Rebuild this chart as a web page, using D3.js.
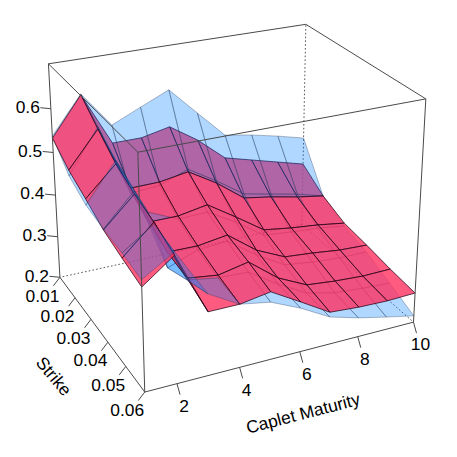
<!DOCTYPE html><html><head><meta charset="utf-8"><style>html,body{margin:0;background:#fff}svg{display:block}text{font-family:"Liberation Sans",Arial,sans-serif;fill:#000}</style></head><body><script src="https://cdn.jsdelivr.net/npm/d3@7"></script><script>
const maturities=[1,2,3,4,5,6,7,8,9,10];
const strikes=[0.01,0.02,0.03,0.04,0.05,0.06];
const zTicks=[0.2,0.3,0.4,0.5,0.6];
const strikeTicks=[0.01,0.02,0.03,0.04,0.05,0.06];
const matTicks=[2,4,6,8,10];
const surfaceA=[
[.533,.500,.478,.454,.440,.428],
[.620,.580,.542,.518,.502,.479],
[.497,.432,.397,.375,.365,.342],
[.497,.433,.397,.374,.356,.342],
[.511,.444,.409,.384,.370,.353],
[.467,.404,.366,.334,.318,.314],
[.411,.354,.321,.303,.286,.274],
[.393,.343,.311,.297,.279,.269],
[.375,.329,.304,.289,.275,.267],
[.357,.318,.294,.286,.276,.269]];
const surfaceB=[
[.538,.487,.464,.456,.451,.443],
[.622,.585,.550,.525,.498,.486],
[.539,.420,.420,.339,.361,.381],
[.569,.425,.390,.365,.350,.342],
[.598,.450,.392,.370,.347,.330],
[.532,.409,.354,.323,.304,.300],
[.467,.364,.308,.284,.267,.263],
[.455,.350,.301,.275,.251,.244],
[.440,.336,.296,.270,.246,.229],
[.423,.318,.287,.269,.242,.215]];
const W=457,H=457;
const U=d3.scaleLinear().domain([1,10]).range([0,1]);
const V=d3.scaleLinear().domain([.01,.06]).range([0,1]);
const Z=d3.scaleLinear().domain([.2,.7]).range([0,1]);
// camera calibration: box corners -> page pixels
const corners=[[0,0,0,60,279],[0,1,0,145,391],[1,1,0,413,324],[1,0,0,302,222],[0,0,1,48,64],[0,1,1,138,151],[1,1,1,426,99],[1,0,1,306,25]];
function fit(c){const A=[],b=[];for(const[X,Y,G,x,y]of c){A.push([X,Y,G,1,0,0,0,0,-x*X,-x*Y,-x*G]);b.push(x);A.push([0,0,0,0,X,Y,G,1,-y*X,-y*Y,-y*G]);b.push(y);}
const n=11,M=[];for(let i=0;i<n;i++){M.push(new Array(n+1).fill(0));for(let j=0;j<n;j++)for(let k=0;k<A.length;k++)M[i][j]+=A[k][i]*A[k][j];for(let k=0;k<A.length;k++)M[i][n]+=A[k][i]*b[k];}
for(let i=0;i<n;i++){let p=i;for(let r=i+1;r<n;r++)if(Math.abs(M[r][i])>Math.abs(M[p][i]))p=r;[M[i],M[p]]=[M[p],M[i]];for(let r=0;r<n;r++)if(r!=i){const f=M[r][i]/M[i][i];for(let k=i;k<=n;k++)M[r][k]-=f*M[i][k];}}
return M.map((r,i)=>r[n]/r[i]);}
const p=fit(corners);
const raw=(u,v,w)=>{const d=p[8]*u+p[9]*v+p[10]*w+1;return[(p[0]*u+p[1]*v+p[2]*w+p[3])/d,(p[4]*u+p[5]*v+p[6]*w+p[7])/d,d];};
const proj=(m,s,z)=>raw(U(m),V(s),Z(z));
const svg=d3.select("body").append("svg").attr("width",W).attr("height",H).attr("viewBox",`0 0 ${W} ${H}`);
const line=d3.line();
const boxC=(i,j,k)=>raw(i,j,k).slice(0,2);
const edge="#4a4a4a";
const hidden=[[boxC(1,0,0),boxC(0,0,0)],[boxC(1,0,0),boxC(1,1,0)],[boxC(1,0,0),boxC(1,0,1)]];
svg.append("g").selectAll("path").data(hidden).join("path").attr("d",d=>line(d)).attr("fill","none").attr("stroke","#444").attr("stroke-width",.9).attr("stroke-dasharray","1.6,2.2");
const cells=[];
const styles={a:{fill:"rgba(255,49,96,.8)",stroke:"rgba(30,0,20,.8)",sw:.9},b:{fill:"rgba(0,127,255,.31)",stroke:"rgba(35,55,85,.42)",sw:.8}};
[[surfaceA,"a"],[surfaceB,"b"]].forEach(([g,k])=>{
 for(let i=0;i<maturities.length-1;i++)for(let j=0;j<strikes.length-1;j++){
  const pts=[[i,j],[i+1,j],[i+1,j+1],[i,j+1]].map(([a,b])=>proj(maturities[a],strikes[b],g[a][b]));
  cells.push({k,pts:pts.map(q=>q.slice(0,2)),d:d3.mean(pts,q=>q[2])});
 }});
cells.sort((a,b)=>b.d-a.d);
svg.append("g").selectAll("path").data(cells).join("path").attr("d",c=>line(c.pts)+"Z").attr("fill",c=>styles[c.k].fill).attr("stroke",c=>styles[c.k].stroke).attr("stroke-width",c=>styles[c.k].sw).attr("stroke-linejoin","round");
const front=[[boxC(0,0,0),boxC(0,1,0)],[boxC(0,1,0),boxC(1,1,0)],[boxC(0,0,0),boxC(0,0,1)],[boxC(0,1,0),boxC(0,1,1)],[boxC(1,1,0),boxC(1,1,1)],[boxC(0,0,1),boxC(0,1,1)],[boxC(0,1,1),boxC(1,1,1)],[boxC(1,1,1),boxC(1,0,1)],[boxC(1,0,1),boxC(0,0,1)]];
svg.append("g").selectAll("path").data(front).join("path").attr("d",d=>line(d)).attr("fill","none").attr("stroke",edge).attr("stroke-width",1);
const fs=17.4;
const tickG=svg.append("g").attr("stroke",edge).attr("stroke-width",1);
const textG=svg.append("g").attr("font-size",fs);
zTicks.forEach(t=>{const[x,y]=proj(1,.01,t);tickG.append("line").attr("x1",x).attr("y1",y).attr("x2",x-10.5).attr("y2",y-1);
 textG.append("text").attr("x",x-11).attr("y",y-2).attr("text-anchor","end").attr("dy",".36em").text(t.toFixed(1));});
strikeTicks.forEach(t=>{const[x,y]=proj(1,t,.2);tickG.append("line").attr("x1",x).attr("y1",y).attr("x2",x-6.5).attr("y2",y+8.5);
 textG.append("text").attr("x",x-17.5).attr("y",y+18).attr("text-anchor","middle").attr("dy",".36em").text(t.toFixed(2));});
matTicks.forEach(t=>{const[x,y]=proj(t,.06,.2);tickG.append("line").attr("x1",x).attr("y1",y).attr("x2",x+3).attr("y2",y+11);
 textG.append("text").attr("x",x+7).attr("y",y+22).attr("text-anchor","middle").attr("dy",".36em").text(t);});
textG.append("text").attr("transform","translate(54,376) rotate(50)").attr("text-anchor","middle").attr("dy",".36em").text("Strike");
textG.append("text").attr("transform","translate(303,413) rotate(-14.5)").attr("text-anchor","middle").attr("dy",".36em").text("Caplet Maturity");
</script></body></html>
